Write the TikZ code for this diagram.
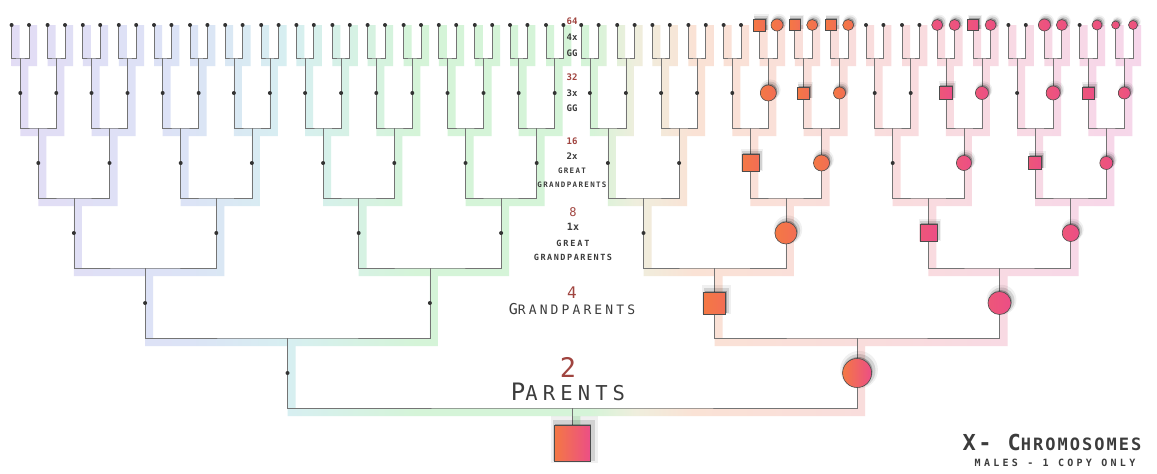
\documentclass[tikz,border=0pt]{standalone}
\usepackage{fontspec}
\setmainfont{DejaVu Sans Mono}
\usetikzlibrary{calc,shadows,backgrounds}

\definecolor{lnk}{HTML}{747474}
\definecolor{numred}{HTML}{A0443F}
\definecolor{labgray}{HTML}{3C3C3C}
\definecolor{xora}{HTML}{F47844}
\definecolor{xpnk}{HTML}{EC4E86}
\definecolor{gl0}{HTML}{E3DCF5}
\definecolor{gl1}{HTML}{DCE3F6}
\definecolor{gl2}{HTML}{D7EFF1}
\definecolor{gl3}{HTML}{D5F4D8}
\definecolor{gl4}{HTML}{EFEEDD}
\definecolor{gl5}{HTML}{FAE2D5}
\definecolor{gl6}{HTML}{F9DCDE}
\definecolor{gl7}{HTML}{F6D6EB}
% the shaded box maps onto 25bp..75bp of the shading
\pgfdeclarehorizontalshading{glowshade}{100bp}{color(0bp)=(gl0); color(25bp)=(gl0); color(33bp)=(gl1); color(37.5bp)=(gl2); color(43bp)=(gl3); color(50.5bp)=(gl3); color(52.5bp)=(gl4); color(55bp)=(gl5); color(64bp)=(gl6); color(75bp)=(gl7); color(100bp)=(gl7)}

% ancestors who pass on an X: generation/index/shape/size/fill
\newcommand\xanc{0/0/xsq/36/xmix, 1/1/xci/29/xmix,
  2/2/xsq/22/xor, 2/3/xci/23/xpk,
  3/5/xci/22/xor, 3/6/xsq/17/xpk, 3/7/xci/17/xpk,
  4/10/xsq/17/xor, 4/11/xci/16/xor, 4/13/xci/15/xpk, 4/14/xsq/13/xpk, 4/15/xci/13/xpk,
  5/21/xci/16/xor, 5/22/xsq/12/xor, 5/23/xci/12/xor, 5/26/xsq/13/xpk, 5/27/xci/13/xpk,
  5/29/xci/14/xpk, 5/30/xsq/12/xpk, 5/31/xci/12/xpk,
  6/42/xsq/12/xor, 6/43/xci/12/xor, 6/44/xsq/11/xor, 6/45/xci/11/xor, 6/46/xsq/11/xor,
  6/47/xci/11/xor, 6/52/xci/11/xpk, 6/53/xci/11/xpk, 6/54/xsq/11/xpk, 6/55/xci/11/xpk,
  6/58/xci/12/xpk, 6/59/xci/11/xpk, 6/61/xci/10/xpk, 6/62/xci/8/xpk, 6/63/xci/9/xpk}

\tikzset{
  tree/.style={draw=lnk,line width=.8pt},
  dot/.style={circle,fill=black!80,inner sep=0pt,minimum size=4pt},
  xshadow/.style={
    general shadow={fill=black,opacity=.06,shadow scale=1.3,shadow xshift=1.5pt,shadow yshift=2.5pt},
    general shadow={fill=black,opacity=.12,shadow scale=1.15,shadow xshift=1.5pt,shadow yshift=2pt},
    general shadow={fill=black,opacity=.25,shadow scale=1,shadow xshift=1pt,shadow yshift=1.5pt}},
  xsq/.style={rectangle,draw=black!70,line width=.6pt,inner sep=0pt,xshadow},
  xci/.style={circle,draw=black!70,line width=.6pt,inner sep=0pt,xshadow},
  xor/.style={left color=xora,right color=xora!75!xpnk},
  xpk/.style={left color=xpnk!80!xora,right color=xpnk},
  xmix/.style={left color=xora,right color=xpnk},
  num/.style={text=numred,inner sep=0pt},
  lab/.style={text=labgray,inner sep=0pt},
  cnum/.style={num,font=\bfseries\fontsize{9}{9}\selectfont},
  ctag/.style={lab,font=\bfseries\fontsize{9}{9}\selectfont},
}

\begin{document}
\begin{tikzpicture}[x=1pt,y=-1pt]
\useasboundingbox (0,0) rectangle (1157,474);
% ancestors: root at the bottom, each row 70 above its children
\coordinate (n0-0) at (572.3,443);
\foreach \g/\dx/\dy in {1/284.8/70,2/142.4/70,3/71.2/70,4/35.6/70,5/18/70,6/8.7/68}{
  \pgfmathtruncatemacro\q{\g-1}
  \pgfmathtruncatemacro\last{2^\g-1}
  \foreach \i in {0,...,\last}{
    \pgfmathtruncatemacro\p{\i/2}
    \pgfmathtruncatemacro\s{2*mod(\i,2)-1}
    \coordinate (n\g-\i) at ($(n\q-\p)+(\s*\dx,-\dy)$);
  }
}
% forks, and the glow strip beside each of them
\gdef\glowpath{}
\foreach \g in {0,...,5}{
  \pgfmathtruncatemacro\h{\g+1}
  \pgfmathtruncatemacro\last{2^\g-1}
  \foreach \i in {0,...,\last}{
    \pgfmathtruncatemacro\ca{2*\i}
    \pgfmathtruncatemacro\cb{2*\i+1}
    \coordinate (j\g-\i) at ($(n\g-\i)+(0,-35)$);
    \draw[tree] (n\h-\ca) |- (j\g-\i) -| (n\h-\cb) (j\g-\i) -- (n\g-\i);
    \xdef\glowpath{\glowpath
      (n\h-\ca) rectangle ($(j\g-\i -| n\h-\ca)+(8,8)$)
      (j\g-\i -| n\h-\ca) rectangle ($(j\g-\i -| n\h-\cb)+(8,8)$)
      (n\h-\cb) rectangle ($(j\g-\i -| n\h-\cb)+(8,8)$)
      (j\g-\i) rectangle ($(n\g-\i)+(8,8)$)}
  }
}
\begin{scope}[on background layer]
  \fill[white] (0,0) rectangle (1157,474);
  \begin{scope}
    \expandafter\clip\glowpath;
    \shade[shading=glowshade] (0,0) rectangle (1157,474);
  \end{scope}
\end{scope}
% plain dots, then the X carriers
\foreach \gn/\ix/\shp/\sz/\fl in \xanc {\expandafter\gdef\csname isx\gn-\ix\endcsname{}}
\foreach \g in {0,...,6}{
  \pgfmathtruncatemacro\last{2^\g-1}
  \foreach \i in {0,...,\last}{
    \ifcsname isx\g-\i\endcsname\else\node[dot] (d\g-\i) at (n\g-\i) {};\fi
  }
}
\foreach \gn/\ix/\shp/\sz/\fl in \xanc
  \node[\shp,\fl,minimum size=\sz] (x\gn-\ix) at (n\gn-\ix) {};

% middle column
\node[cnum] (c64) at (572,21) {64};
\node[ctag] (c4x) at (572,37) {4x};
\node[ctag] (c4g) at (572,53) {GG};
\node[cnum] (c32) at (572,77) {32};
\node[ctag] (c3x) at (572,93) {3x};
\node[ctag] (c3g) at (572,108) {GG};
\node[cnum] (c16) at (572,141) {16};
\node[ctag] (c2x) at (572,156) {2x};
\node[lab,font=\bfseries\fontsize{7.5}{7.5}\selectfont\addfontfeature{LetterSpace=18}] (c2gr) at (572,171) {GREAT};
\node[lab,font=\bfseries\fontsize{7.5}{7.5}\selectfont\addfontfeature{LetterSpace=18}] (c2gp) at (572,185) {GRANDPARENTS};
\node[num,font=\fontsize{12}{12}\selectfont] (c8) at (573,212) {8};
\node[lab,font=\bfseries\fontsize{10}{10}\selectfont] (c1x) at (573,227) {1x};
\node[lab,font=\bfseries\fontsize{8.5}{8.5}\selectfont\addfontfeature{LetterSpace=22}] (c1gr) at (573,243) {GREAT};
\node[lab,font=\bfseries\fontsize{8.5}{8.5}\selectfont\addfontfeature{LetterSpace=18}] (c1gp) at (573,257) {GRANDPARENTS};
\node[num,font=\fontsize{16}{16}\selectfont] (c4) at (572,293) {4};
\node[lab,font=\fontsize{13}{13}\selectfont\addfontfeature{LetterSpace=24}] (cgp) at (572,309) {{\fontsize{15}{15}\selectfont G}RANDPARENTS};
\node[num,font=\fontsize{27}{27}\selectfont] (c2) at (568,367) {2};
\node[lab,font=\fontsize{20.5}{20.5}\selectfont\addfontfeature{LetterSpace=25}] (cpar) at (568,392) {{\fontsize{24}{24}\selectfont P}ARENTS};

% legend
\node[lab,font=\bfseries\fontsize{17}{17}\selectfont\addfontfeature{LetterSpace=12}] (ttl) at (1052,442) {{\fontsize{22}{22}\selectfont X- C}HROMOSOMES};
\node[lab,font=\bfseries\fontsize{10}{10}\selectfont\addfontfeature{LetterSpace=33}] (sub) at (1055,463) {MALES - 1 COPY ONLY};
\end{tikzpicture}
\end{document}
